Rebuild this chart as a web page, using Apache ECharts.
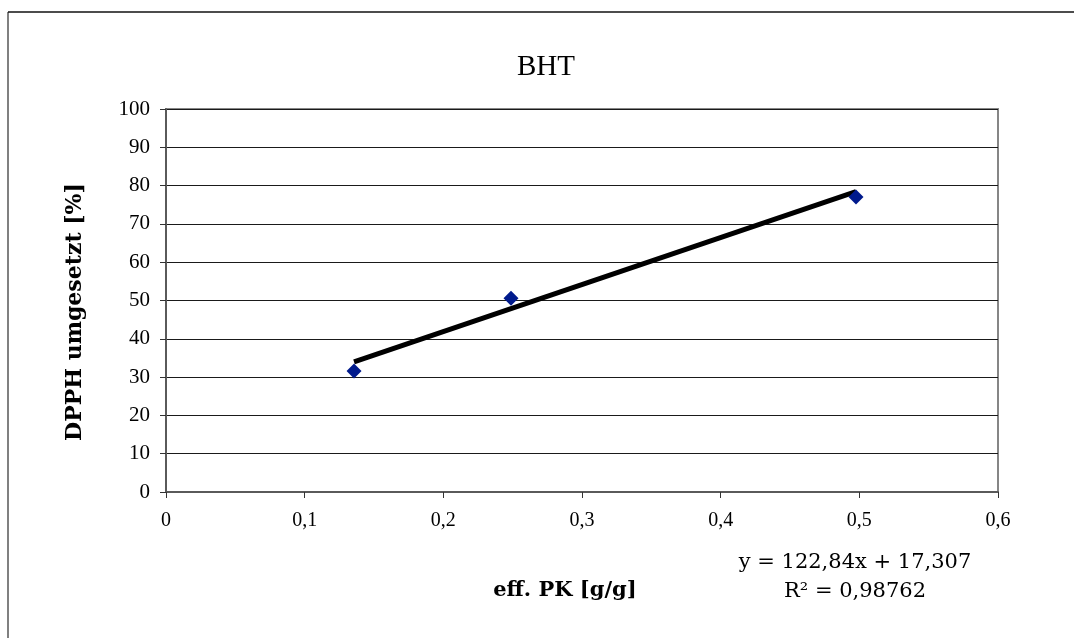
<!DOCTYPE html>
<html>
<head>
<meta charset="utf-8">
<title>BHT</title>
<script src="https://cdn.jsdelivr.net/npm/echarts@6/dist/echarts.min.js"></script>
<style>
  html, body { margin: 0; padding: 0; background: #fff; }
  #chart { width: 1074px; height: 638px; }
</style>
</head>
<body>
<div id="chart"></div>
<script>
// Measured points: effective PK [g/g] vs. converted DPPH [%]
const effPK = [0.1356, 0.2488, 0.4976];
const dpphConverted = [31.6, 50.6, 77.0];

// Linear trend line as reported
const trendSlope = 122.84;
const trendIntercept = 17.307;
const trendText = ['y = 122,84x + 17,307', 'R² = 0,98762'];

// Axis ranges and ticks
const xMin = 0, xMax = 0.6, xStep = 0.1;
const yMin = 0, yMax = 100, yStep = 10;

const titleText = 'BHT';
const xTitle = 'eff. PK [g/g]';
const yTitle = 'DPPH umgesetzt [%]';

const points = effPK.map((x, i) => [x, dpphConverted[i]]);
const xLo = Math.min(...effPK), xHi = Math.max(...effPK);
const trendLine = [xLo, xHi].map(x => [x, trendSlope * x + trendIntercept]);

const serif = '"DejaVu Serif", "Liberation Serif", serif';
const tickFont = '"Liberation Serif", "DejaVu Serif", serif';

const chart = echarts.init(document.getElementById('chart'), null, { renderer: 'canvas' });
chart.setOption({
  backgroundColor: '#fff',
  animation: false,
  grid: {
    left: 166, right: 76, top: 109, bottom: 146,
    show: true, borderColor: '#868686', borderWidth: 2
  },
  xAxis: {
    type: 'value', min: xMin, max: xMax, interval: xStep,
    axisLine: { show: true, onZero: false, lineStyle: { color: '#5a5a5a', width: 2 } },
    axisTick: { show: true, inside: false, length: 6, lineStyle: { color: '#333', width: 1 } },
    splitLine: { show: false },
    axisLabel: {
      margin: 19, color: '#000', fontFamily: tickFont, fontSize: 20,
      formatter: v => String(Math.round(v * 10) / 10).replace('.', ',')
    }
  },
  yAxis: {
    type: 'value', min: yMin, max: yMax, interval: yStep,
    axisLine: { show: true, lineStyle: { color: '#5a5a5a', width: 2 } },
    axisTick: { show: true, inside: false, length: 6, lineStyle: { color: '#333', width: 1 } },
    splitLine: { show: true, lineStyle: { color: '#1a1a1a', width: 1 } },
    axisLabel: { margin: 16, color: '#000', fontFamily: tickFont, fontSize: 21 }
  },
  series: [
    {
      type: 'line',
      data: trendLine,
      symbol: 'none',
      lineStyle: { color: '#000', width: 5 },
      z: 2
    },
    {
      type: 'scatter',
      data: points,
      symbol: 'diamond',
      symbolSize: 15,
      itemStyle: { color: '#001a8c', opacity: 1 },
      z: 3
    }
  ],
  graphic: [
    { type: 'line', shape: { x1: 8, y1: 12, x2: 8, y2: 638 }, style: { stroke: '#808080', lineWidth: 2 } },
    { type: 'line', shape: { x1: 8, y1: 12, x2: 1074, y2: 12 }, style: { stroke: '#111', lineWidth: 1.5 } },
    {
      type: 'text', x: 546, y: 67,
      style: { text: titleText, fill: '#000', font: '29px ' + tickFont, textAlign: 'center', textVerticalAlign: 'middle' }
    },
    {
      type: 'text', x: 75, y: 312, rotation: Math.PI / 2,
      style: { text: yTitle, fill: '#000', font: 'bold 22px ' + serif, textAlign: 'center', textVerticalAlign: 'middle' }
    },
    {
      type: 'text', x: 565, y: 591,
      style: { text: xTitle, fill: '#000', font: 'bold 21px ' + serif, textAlign: 'center', textVerticalAlign: 'middle' }
    },
    {
      type: 'text', x: 855, y: 563,
      style: { text: trendText[0], fill: '#000', font: '21px ' + serif, textAlign: 'center', textVerticalAlign: 'middle' }
    },
    {
      type: 'text', x: 855, y: 592,
      style: { text: trendText[1], fill: '#000', font: '21px ' + serif, textAlign: 'center', textVerticalAlign: 'middle' }
    }
  ]
});
</script>
</body>
</html>
